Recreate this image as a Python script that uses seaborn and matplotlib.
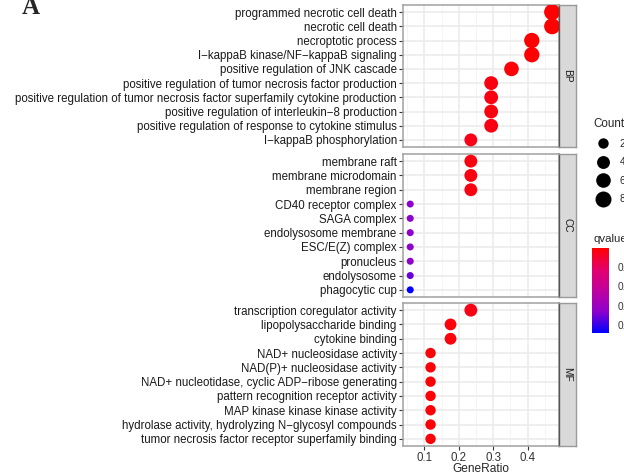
import numpy as np
import pandas as pd
import matplotlib
matplotlib.use("Agg")
import matplotlib.pyplot as plt
from matplotlib.colors import LinearSegmentedColormap, Normalize
from matplotlib.cm import ScalarMappable
from matplotlib.lines import Line2D
import seaborn as sns

# GO enrichment terms, top to bottom inside each facet
bp_terms = [
    "programmed necrotic cell death",
    "necrotic cell death",
    "necroptotic process",
    "I\u2212kappaB kinase/NF\u2212kappaB signaling",
    "positive regulation of JNK cascade",
    "positive regulation of tumor necrosis factor production",
    "positive regulation of tumor necrosis factor superfamily cytokine production",
    "positive regulation of interleukin\u22128 production",
    "positive regulation of response to cytokine stimulus",
    "I\u2212kappaB phosphorylation",
]
bp_count = [8, 8, 7, 7, 6, 5, 5, 5, 5, 4]
bp_ratio = [0.471, 0.471, 0.412, 0.412, 0.353, 0.294, 0.294, 0.294, 0.294, 0.235]
bp_qvalue = [0.0002, 0.0002, 0.0006, 0.0006, 0.0012, 0.0020, 0.0020, 0.0018, 0.0022, 0.0028]

cc_terms = [
    "membrane raft",
    "membrane microdomain",
    "membrane region",
    "CD40 receptor complex",
    "SAGA complex",
    "endolysosome membrane",
    "ESC/E(Z) complex",
    "pronucleus",
    "endolysosome",
    "phagocytic cup",
]
cc_count = [4, 4, 4, 1, 1, 1, 1, 1, 1, 1]
cc_ratio = [0.235, 0.235, 0.235, 0.059, 0.059, 0.059, 0.059, 0.059, 0.059, 0.059]
cc_qvalue = [0.0020, 0.0020, 0.0020, 0.0330, 0.0330, 0.0330, 0.0330, 0.0330, 0.0360, 0.0441]

mf_terms = [
    "transcription coregulator activity",
    "lipopolysaccharide binding",
    "cytokine binding",
    "NAD+ nucleosidase activity",
    "NAD(P)+ nucleosidase activity",
    "NAD+ nucleotidase, cyclic ADP\u2212ribose generating",
    "pattern recognition receptor activity",
    "MAP kinase kinase kinase activity",
    "hydrolase activity, hydrolyzing N\u2212glycosyl compounds",
    "tumor necrosis factor receptor superfamily binding",
]
mf_count = [4, 3, 3, 2, 2, 2, 2, 2, 2, 2]
mf_ratio = [0.235, 0.176, 0.176, 0.118, 0.118, 0.118, 0.118, 0.118, 0.118, 0.118]
mf_qvalue = [0.0025, 0.0015, 0.0015, 0.0010, 0.0010, 0.0010, 0.0010, 0.0010, 0.0010, 0.0010]

df = pd.DataFrame({
    "ONTOLOGY": ["BP"] * 10 + ["CC"] * 10 + ["MF"] * 10,
    "Description": bp_terms + cc_terms + mf_terms,
    "Count": bp_count + cc_count + mf_count,
    "GeneRatio": bp_ratio + cc_ratio + mf_ratio,
    "qvalue": bp_qvalue + cc_qvalue + mf_qvalue,
})

sns.set_style("white")
plt.rcParams["font.family"] = ["Liberation Sans", "DejaVu Sans"]

W, H = 624, 476
fig = plt.figure(figsize=(W / 100, H / 100), dpi=100)


def fx(px):
    return px / W


def fy(py):
    return 1 - py / H


# red (low q) -> blue (high q), roughly like ggplot's Lab gradient
cmap = LinearSegmentedColormap.from_list(
    "qv", ["#FF0000", "#E4006C", "#C0009E", "#8E00CC", "#0000FF"])
norm = Normalize(df["qvalue"].min(), df["qvalue"].max())

# ggplot-like area scale: diameter 7..16 px for counts 1..8
cmin, cmax = 1, 8
size_map = {}
for c in range(cmin, cmax + 1):
    d_px = 7 + 9 * np.sqrt((c - cmin) / (cmax - cmin))
    size_map[c] = (d_px * 0.72) ** 2

panels = [("BP", 5, 147), ("CC", 154, 297), ("MF", 303, 446)]
left, right = 403, 559
xlim = (0.038, 0.491)

for i, (ont, top, bot) in enumerate(panels):
    ax = fig.add_axes([fx(left), fy(bot), fx(right) - fx(left), (bot - top) / H])
    sub = df[df["ONTOLOGY"] == ont]
    sns.scatterplot(data=sub, x="GeneRatio", y="Description", hue="qvalue",
                    palette=cmap, hue_norm=norm, size="Count", sizes=size_map,
                    linewidth=0, alpha=1, legend=False, ax=ax, zorder=3)
    n = len(sub)
    ax.set_ylim(n - 0.5, -0.5)
    ax.set_xlim(*xlim)
    ax.set_xticks([0.1, 0.2, 0.3, 0.4])
    ax.set_xticks([0.05, 0.15, 0.25, 0.35, 0.45], minor=True)
    ax.grid(which="major", color="#EBEBEB", linewidth=1.1, zorder=0)
    ax.grid(which="minor", axis="x", color="#F4F4F4", linewidth=0.6, zorder=0)
    ax.set_axisbelow(True)
    for sp in ax.spines.values():
        sp.set_color("#A0A0A0")
        sp.set_linewidth(1.1)
    ax.tick_params(axis="y", length=3, width=0.8, color="#333333",
                   labelsize=8.3, labelcolor="#1A1A1A", pad=1.5, left=True)
    ax.set_ylabel("")
    ax.set_xlabel("")
    if i < 2:
        ax.tick_params(axis="x", which="both", bottom=False, labelbottom=False)
    else:
        ax.tick_params(axis="x", which="major", length=3, width=0.8, color="#333333",
                       labelsize=8.3, labelcolor="#333333", pad=1.5, bottom=True)
        ax.tick_params(axis="x", which="minor", bottom=False)
        ax.set_xticklabels(["0.1", "0.2", "0.3", "0.4"])

    # facet strip on the right
    sax = fig.add_axes([fx(right), fy(bot), fx(576) - fx(right), (bot - top) / H])
    sax.set_facecolor("#D9D9D9")
    sax.set_xticks([])
    sax.set_yticks([])
    for sp in sax.spines.values():
        sp.set_color("#9A9A9A")
        sp.set_linewidth(1.0)
    sax.spines["left"].set_color("#555555")
    sax.text(0.5, 0.5, ont, rotation=270, ha="center", va="center",
             fontsize=7.3, color="#1A1A1A", transform=sax.transAxes)

# x axis title under the bottom panel
fig.text(fx((left + right) / 2), fy(472), "GeneRatio", fontsize=8.6,
         ha="center", va="baseline")

# size legend
handles = [Line2D([], [], marker="o", ls="", color="black", markeredgewidth=0,
                  markersize=np.sqrt(size_map[c])) for c in [2, 4, 6, 8]]
fig.legend(handles, ["2", "4", "6", "8"], title="Count", loc="upper left",
           bbox_to_anchor=(fx(593), fy(118)), frameon=False, fontsize=7.3,
           title_fontsize=8.4, labelspacing=0.85, handletextpad=0.6,
           borderaxespad=0, borderpad=0, alignment="left")

# colour bar legend
fig.text(fx(593), fy(242), "qvalue", fontsize=8.2, ha="left", va="baseline")
cax = fig.add_axes([fx(592), fy(333), fx(609) - fx(592), 85 / H])
cb = fig.colorbar(ScalarMappable(norm=norm, cmap=cmap), cax=cax)
cb.outline.set_visible(False)
cax.invert_yaxis()
cb.set_ticks([0.01, 0.02, 0.03, 0.04])
cb.set_ticklabels(["0.01", "0.02", "0.03", "0.04"])
cax.tick_params(which="both", direction="in", color="white", length=3.5, width=0.8,
                left=True, right=True, labelsize=7.3, labelcolor="#333333", pad=6)

fig.text(fx(22), fy(14), "A", fontsize=18, fontweight="bold",
         family="Liberation Serif", ha="left", va="baseline")

fig.savefig("out.png", dpi=100)
